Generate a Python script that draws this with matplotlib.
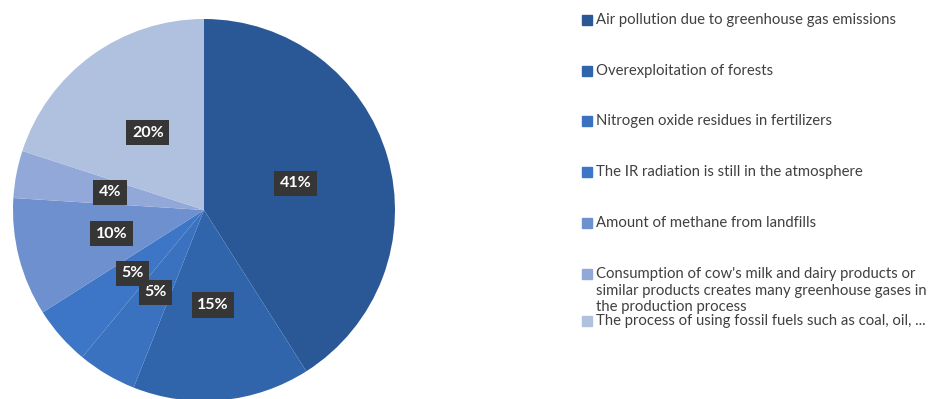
import numpy as np
import matplotlib.pyplot as plt

labels = [
    "Air pollution due to greenhouse gas emissions",
    "Overexploitation of forests",
    "Nitrogen oxide residues in fertilizers",
    "The IR radiation is still in the atmosphere",
    "Amount of methane from landfills",
    "Consumption of cow's milk and dairy products or\nsimilar products creates many greenhouse gases in\nthe production process",
    "The process of using fossil fuels such as coal, oil, ...",
]
shares = [41, 15, 5, 5, 10, 4, 20]
colors = ["#2a5897", "#3065ab", "#3a72c0", "#3d76c6", "#6f90cf", "#91a8d8", "#b0c0df"]

# legend rows: pixel y of the first text line, measured from the top
legend_y = [20, 71, 121, 172, 223, 274, 321]
line_step = 16.5

W, H = 937, 399
fig = plt.figure(figsize=(W / 100, H / 100), dpi=100)

# pie: centre (204, 210), radius 191 px
cx, cy, r = 204, 210, 191
ax = fig.add_axes([(cx - r) / W, (H - cy - r) / H, 2 * r / W, 2 * r / H])
ax.pie(shares, colors=colors, startangle=90, counterclock=False,
       radius=1, wedgeprops=dict(linewidth=0))
ax.set_xlim(-1, 1)
ax.set_ylim(-1, 1)
ax.set_aspect("equal")
ax.axis("off")

# percentage labels in dark boxes, halfway out along each slice
ang = 90.0
for s in shares:
    span = s / sum(shares) * 360
    mid = np.deg2rad(ang - span / 2)
    ang -= span
    ax.text(0.5 * np.cos(mid), 0.5 * np.sin(mid), f"{s}%", ha="center", va="center",
            color="white", fontsize=11.5, fontweight="bold", family="Lato",
            bbox=dict(boxstyle="square,pad=0.35", fc="#363636", ec="none"))

# legend drawn by hand
for lab, col, y in zip(labels, colors, legend_y):
    fig.patches.append(plt.Rectangle((582 / W, 1 - (y + 5) / H), 10 / W, 10 / H,
                                     transform=fig.transFigure, color=col))
    for i, line in enumerate(lab.split("\n")):
        fig.text(596 / W, 1 - (y + i * line_step) / H, line, ha="left", va="center",
                 fontsize=10.7, family="Lato", color="#404040")

fig.savefig("out.png", dpi=100)
